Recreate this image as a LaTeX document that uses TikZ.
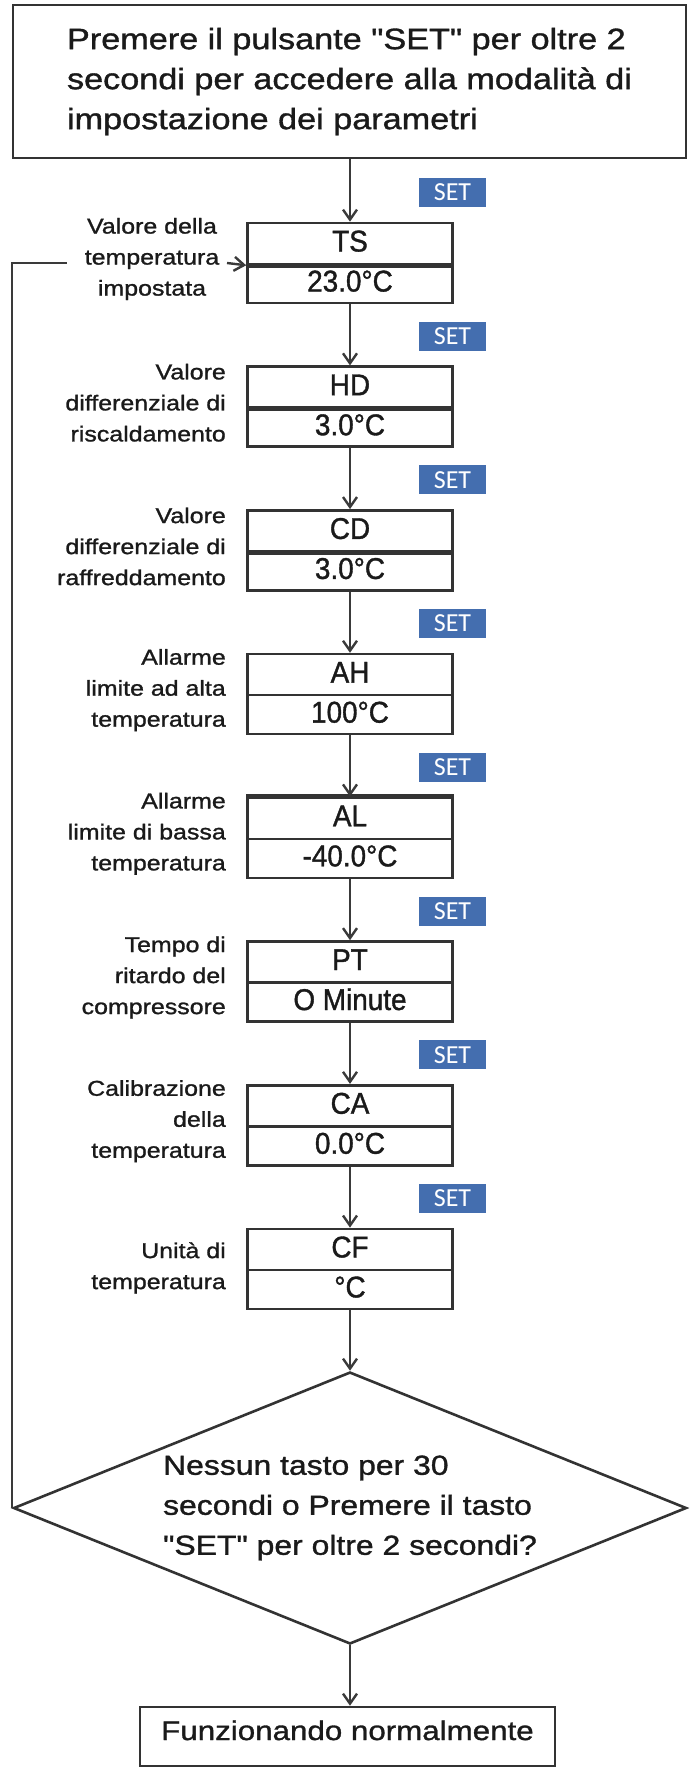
\documentclass[tikz,border=0pt]{standalone}
\usepackage{fontspec}
\setmainfont{Liberation Sans}[FakeStretch=1.16, FakeBold=1.2, Ligatures=TeXOff]
\newfontfamily\valfont{Liberation Sans}[FakeStretch=0.93, FakeBold=1.2, Ligatures=TeXOff]
\newfontfamily\badgefont{Carlito}
\usetikzlibrary{shapes.geometric,arrows.meta}
\definecolor{boxc}{HTML}{333333}
\definecolor{linec}{HTML}{3A3A3A}
\definecolor{setblue}{RGB}{68,110,175}
\definecolor{txt}{HTML}{1A1A1A}
\tikzset{
  boxhalf/.style={draw=boxc, line width=2.6pt, minimum width=205pt, inner sep=0pt,
    text height=22pt, text depth=6pt, text=txt, font=\valfont\fontsize{30}{30}\selectfont},
  tophalf/.style={boxhalf, minimum height=41pt},
  bothalf/.style={boxhalf, minimum height=39pt},
  badge/.style={fill=setblue, text=white, minimum width=67pt, minimum height=29pt,
    inner sep=0pt, font=\badgefont\fontsize{26}{26}\selectfont},
  lbl/.style={anchor=east, align=right, inner sep=0pt, text=txt,
    font=\fontsize{21.5}{31}\selectfont},
  plainline/.style={draw=linec, line width=2.4pt},
  flow/.style={plainline, -{Straight Barb[length=10pt,width=14pt,line width=2.4pt]}},
  thickdiv/.style={draw=boxc, line width=4.8pt},
}
\begin{document}
\begin{tikzpicture}[x=1pt,y=-1pt]
\useasboundingbox (0,0) rectangle (693,1773);

% start box
\node[draw=boxc, line width=2.6pt, minimum width=673pt, minimum height=153pt, align=left,
  text=txt, font=\fontsize{29.5}{40}\selectfont] (start) at (349.5,81.5)
  {Premere il pulsante "SET" per oltre 2\\secondi per accedere alla modalità di\\impostazione dei parametri};

% parameter boxes
\node[tophalf] (ts)  at (350,243.5)  {TS};
\node[bothalf] (tsv) at (350,283.5)  {23.0°C};
\node[tophalf] (hd)  at (350,387.2)  {HD};
\node[bothalf] (hdv) at (350,427.2)  {3.0°C};
\node[tophalf] (cd)  at (350,530.9)  {CD};
\node[bothalf] (cdv) at (350,570.9)  {3.0°C};
\node[tophalf] (ah)  at (350,674.6)  {AH};
\node[bothalf] (ahv) at (350,714.6)  {100°C};
\node[tophalf] (al)  at (350,818.3)  {AL};
\node[bothalf] (alv) at (350,858.3)  {-40.0°C};
\node[tophalf] (pt)  at (350,962.0)  {PT};
\node[bothalf] (ptv) at (350,1002.0) {O Minute};
\node[tophalf] (ca)  at (350,1105.7) {CA};
\node[bothalf] (cav) at (350,1145.7) {0.0°C};
\node[tophalf] (cf)  at (350,1249.4) {CF};
\node[bothalf] (cfv) at (350,1289.4) {°C};

% thick dividers
\draw[thickdiv] (ts.south west) -- (ts.south east);
\draw[thickdiv] (hd.south west) -- (hd.south east);
\draw[thickdiv] (cd.south west) -- (cd.south east);
\draw[thickdiv] (al.north west) -- (al.north east);

% badges
\node[badge] (b1) at (452.5,192.5)  {SET};
\node[badge] (b2) at (452.5,336.2)  {SET};
\node[badge] (b3) at (452.5,479.9)  {SET};
\node[badge] (b4) at (452.5,623.6)  {SET};
\node[badge] (b5) at (452.5,767.3)  {SET};
\node[badge] (b6) at (452.5,911.0)  {SET};
\node[badge] (b7) at (452.5,1054.7) {SET};
\node[badge] (b8) at (452.5,1198.4) {SET};

% labels
\node[lbl, anchor=center, align=center] (l1) at (152,259) {Valore della\\temperatura\\impostata};
\node[lbl] (l2) at (226,402.7)  {Valore\\differenziale di\\riscaldamento};
\node[lbl] (l3) at (226,546.4)  {Valore\\differenziale di\\raffreddamento};
\node[lbl] (l4) at (226,690.1)  {Allarme\\limite ad alta\\temperatura};
\node[lbl] (l5) at (226,833.8)  {Allarme\\limite di bassa\\temperatura};
\node[lbl] (l6) at (226,977.5)  {Tempo di\\ritardo del\\compressore};
\node[lbl] (l7) at (226,1121.2) {Calibrazione\\della\\temperatura};
\node[lbl] (l8) at (226,1267.9) {Unità di\\temperatura};

% decision
\node[diamond, draw=boxc, line width=2.6pt, shape aspect=2.474, minimum width=673pt,
  minimum height=272pt, inner sep=0pt, align=left, text=txt,
  font=\fontsize{27.5}{40}\selectfont] (dia) at (350,1508)
  {Nessun tasto per 30\\secondi o Premere il tasto\\"SET" per oltre 2 secondi?};

% final
\node[draw=boxc, line width=2.6pt, minimum width=415pt, minimum height=59pt, inner sep=0pt,
  text height=19.7pt, text depth=12.7pt, text=txt, font=\fontsize{27}{27}\selectfont]
  (fin) at (347.5,1736.5) {Funzionando normalmente};

% connectors
\draw[flow] (start.south -| ts.north) -- (ts.north);
\draw[flow] (tsv.south) -- (hd.north);
\draw[flow] (hdv.south) -- (cd.north);
\draw[flow] (cdv.south) -- (ah.north);
\draw[flow] (ahv.south) -- (al.north);
\draw[flow] (alv.south) -- (pt.north);
\draw[flow] (ptv.south) -- (ca.north);
\draw[flow] (cav.south) -- (cf.north);
\draw[flow] (cfv.south) -- (dia.north);
\draw[flow] (dia.south) -- (dia.south |- fin.north);

% loop back
\coordinate (loopA) at (67,263);
\coordinate (loopB) at (227,263);
\draw[plainline] (dia.west) -- (dia.west |- loopA) -- (loopA);
\draw[flow] (loopB) -- (ts.south west);
\end{tikzpicture}
\end{document}
